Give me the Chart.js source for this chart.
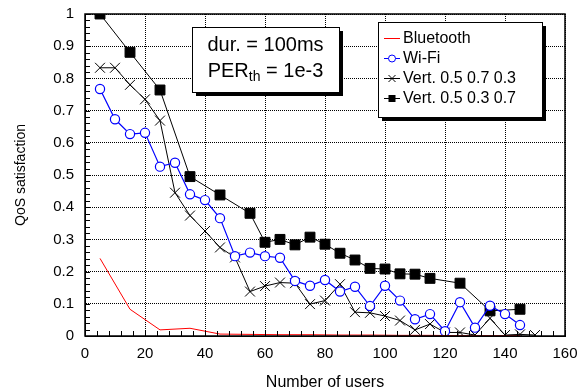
<!DOCTYPE html>
<html>
<head>
<meta charset="utf-8">
<script src="https://cdn.jsdelivr.net/npm/chart.js@4/dist/chart.umd.min.js"></script>
<style>
  html, body { margin: 0; padding: 0; background: #fff; }
</style>
</head>
<body>
<canvas id="qosChart" width="582" height="392"></canvas>
<script>
// number of users for each series
const usersBluetooth = [5, 15, 25, 35, 45, 55, 65, 75, 85, 95, 105, 115, 125, 135, 145];
const usersWifi = [5, 10, 15, 20, 25, 30, 35, 40, 45, 50, 55, 60, 65, 70, 75, 80, 85, 90, 95, 100,
  105, 110, 115, 120, 125, 130, 135, 140, 145];
const usersVertA = [5, 10, 15, 20, 25, 30, 35, 40, 45, 50, 55, 60, 65, 70, 75, 80, 85, 90, 95, 100,
  105, 110, 115, 120, 125, 130, 135, 140, 145, 150];
const usersVertB = [5, 15, 25, 35, 45, 55, 60, 65, 70, 75, 80, 85, 90, 95, 100, 105, 110, 115, 125, 135, 145];

// QoS satisfaction ratio
const qosBluetooth = [0.241, 0.083, 0.019, 0.024, 0.006, 0.005, 0.004, 0.004, 0.003, 0.003, 0.002, 0.002, 0.001, 0.001, 0.001];
const qosWifi = [0.767, 0.673, 0.627, 0.631, 0.526, 0.538, 0.440, 0.422, 0.366, 0.248, 0.259, 0.248, 0.243, 0.171,
  0.156, 0.174, 0.138, 0.153, 0.093, 0.156, 0.110, 0.052, 0.068, 0.015, 0.105, 0.026, 0.094, 0.068, 0.034];
const qosVertA = [0.833, 0.833, 0.780, 0.735, 0.669, 0.445, 0.374, 0.326, 0.275, 0.244, 0.138, 0.155, 0.166, 0.164,
  0.099, 0.110, 0.161, 0.074, 0.072, 0.062, 0.048, 0.019, 0.037, 0.011, 0.011, 0.003, 0.055, 0.003, 0.005, 0.003];
const qosVertB = [1.0, 0.881, 0.764, 0.495, 0.438, 0.381, 0.291, 0.300, 0.283, 0.307, 0.285, 0.257, 0.236, 0.210,
  0.208, 0.193, 0.192, 0.179, 0.164, 0.078, 0.083];

const seriesLabels = ['Bluetooth', 'Wi-Fi', 'Vert. 0.5 0.7 0.3', 'Vert. 0.5 0.3 0.7'];
const xTicks = [0, 20, 40, 60, 80, 100, 120, 140, 160];
const yTicks = [0, 0.1, 0.2, 0.3, 0.4, 0.5, 0.6, 0.7, 0.8, 0.9, 1];

const FONT = '"Liberation Sans", Arial, sans-serif';

function pts(xs, ys) {
  return xs.map((x, i) => ({ x: x, y: ys[i] }));
}

function drawMarker(ctx, style, x, y, r, color, fill) {
  ctx.save();
  ctx.strokeStyle = color;
  ctx.lineWidth = 1;
  ctx.beginPath();
  if (style === 'circle') {
    ctx.fillStyle = fill;
    ctx.arc(x, y, r, 0, Math.PI * 2);
    ctx.fill();
    ctx.stroke();
  } else if (style === 'rect') {
    ctx.fillStyle = color;
    ctx.fillRect(x - r, y - r, 2 * r, 2 * r);
  } else if (style === 'crossRot') {
    ctx.moveTo(x - r, y - r); ctx.lineTo(x + r, y + r);
    ctx.moveTo(x - r, y + r); ctx.lineTo(x + r, y - r);
    ctx.stroke();
  }
  ctx.restore();
}

const decorations = {
  id: 'decorations',
  afterDraw(chart) {
    const { ctx, chartArea: a, scales } = chart;
    ctx.save();

    // minor ticks on left and bottom axes
    ctx.strokeStyle = '#000';
    ctx.lineWidth = 1;
    ctx.beginPath();
    for (let v = 0; v <= 1.0001; v += 0.02) {
      const y = Math.round(scales.y.getPixelForValue(v)) + 0.5;
      ctx.moveTo(a.left, y); ctx.lineTo(a.left + 5, y);
    }
    for (let u = 0; u <= 160; u += 4) {
      const x = Math.round(scales.x.getPixelForValue(u)) + 0.5;
      ctx.moveTo(x, a.bottom); ctx.lineTo(x, a.bottom - 5);
    }
    ctx.stroke();

    // plot frame
    ctx.lineWidth = 1.5;
    ctx.strokeRect(a.left, a.top, a.right - a.left, a.bottom - a.top);

    // parameter box
    const bx = 192, by = 27, bw = 147, bh = 65;
    ctx.fillStyle = '#000';
    ctx.fillRect(bx + 4, by + 4, bw, bh);
    ctx.fillStyle = '#fff';
    ctx.fillRect(bx, by, bw, bh);
    ctx.lineWidth = 1;
    ctx.strokeRect(bx + 0.5, by + 0.5, bw, bh);
    ctx.fillStyle = '#000';
    ctx.textBaseline = 'alphabetic';
    ctx.font = '20px ' + FONT;
    const cx = bx + bw / 2;
    ctx.textAlign = 'center';
    ctx.fillText('dur. = 100ms', cx, by + 24);
    ctx.textAlign = 'left';
    const big = '20px ' + FONT, small = '14px ' + FONT;
    ctx.font = big; const wP = ctx.measureText('PER').width;
    ctx.font = small; const wS = ctx.measureText('th').width;
    ctx.font = big; const wR = ctx.measureText(' = 1e-3').width;
    let tx = cx - (wP + wS + wR) / 2;
    const ty = by + 50;
    ctx.fillText('PER', tx, ty); tx += wP;
    ctx.font = small; ctx.fillText('th', tx, ty + 4); tx += wS;
    ctx.font = big; ctx.fillText(' = 1e-3', tx, ty);

    // legend
    const lx = 378, ly = 22, lw = 164, lh = 95;
    ctx.fillStyle = '#000';
    ctx.fillRect(lx + 4, ly + 4, lw, lh);
    ctx.fillStyle = '#fff';
    ctx.fillRect(lx, ly, lw, lh);
    ctx.strokeRect(lx + 0.5, ly + 0.5, lw, lh);
    ctx.font = '16px ' + FONT;
    ctx.textBaseline = 'middle';
    chart.data.datasets.forEach((ds, i) => {
      const yy = ly + 16 + i * 20;
      ctx.strokeStyle = ds.borderColor;
      ctx.lineWidth = 1;
      ctx.beginPath();
      ctx.moveTo(lx + 6, yy + 0.5); ctx.lineTo(lx + 22, yy + 0.5);
      ctx.stroke();
      if (ds.pointRadius > 0) {
        drawMarker(ctx, ds.pointStyle, lx + 14, yy + 0.5, 3.5, ds.borderColor, '#fff');
      }
      ctx.fillStyle = '#000';
      ctx.fillText(ds.label, lx + 25, yy + 1);
    });
    ctx.restore();
  }
};

new Chart(document.getElementById('qosChart'), {
  type: 'line',
  data: {
    datasets: [
      {
        label: seriesLabels[0],
        data: pts(usersBluetooth, qosBluetooth),
        borderColor: '#ff0000',
        borderWidth: 1,
        pointRadius: 0
      },
      {
        label: seriesLabels[1],
        data: pts(usersWifi, qosWifi),
        borderColor: '#0000ff',
        backgroundColor: '#ffffff',
        borderWidth: 1.2,
        pointStyle: 'circle',
        pointRadius: 4.6,
        pointBorderWidth: 1.2
      },
      {
        label: seriesLabels[2],
        data: pts(usersVertA, qosVertA),
        borderColor: '#000000',
        backgroundColor: '#000000',
        borderWidth: 1,
        pointStyle: 'crossRot',
        pointRadius: 7,
        pointBorderWidth: 1
      },
      {
        label: seriesLabels[3],
        data: pts(usersVertB, qosVertB),
        borderColor: '#000000',
        backgroundColor: '#000000',
        borderWidth: 1,
        pointStyle: 'rect',
        pointRadius: 7,
        pointBorderWidth: 1
      }
    ]
  },
  options: {
    responsive: false,
    animation: false,
    devicePixelRatio: 1,
    layout: { padding: { top: 14, right: 17, left: 0, bottom: 0 } },
    elements: { line: { tension: 0 } },
    plugins: {
      legend: { display: false },
      tooltip: { enabled: false }
    },
    scales: {
      x: {
        type: 'linear',
        min: 0,
        max: 160,
        afterFit(s) { s.height = 56; s.paddingLeft = 0; s.paddingRight = 0; },
        afterBuildTicks(s) { s.ticks = xTicks.map(v => ({ value: v })); },
        ticks: { color: '#000', font: { family: FONT, size: 15 }, padding: 9, maxRotation: 0 },
        grid: { color: '#000', lineWidth: 1, drawTicks: false },
        border: { display: true, color: '#000', dash: [1, 1] },
        title: {
          display: true,
          text: 'Number of users',
          color: '#000',
          font: { family: FONT, size: 16 },
          padding: { top: 0, bottom: 0 }
        }
      },
      y: {
        min: 0,
        max: 1,
        afterFit(s) { s.width = 85; s.paddingTop = 0; s.paddingBottom = 0; },
        afterBuildTicks(s) { s.ticks = yTicks.map(v => ({ value: v })); },
        ticks: {
          color: '#000',
          font: { family: FONT, size: 15 },
          padding: 11,
          callback: v => String(Number(v.toFixed(1)))
        },
        grid: { color: '#000', lineWidth: 1, drawTicks: false },
        border: { display: true, color: '#000', dash: [1, 1] },
        title: {
          display: true,
          text: 'QoS satisfaction',
          color: '#000',
          font: { family: FONT, size: 14 },
          padding: { top: 13, bottom: 0 }
        }
      }
    }
  },
  plugins: [decorations]
});
</script>
</body>
</html>
